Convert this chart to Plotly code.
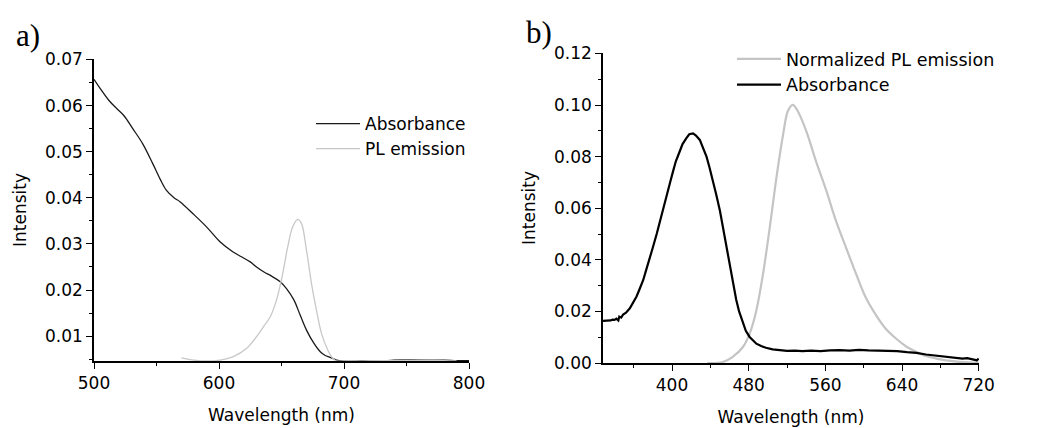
import plotly.graph_objects as go

# ---------------- Panel a data ----------------
a_abs_wl = [500, 505, 512, 518, 524, 531, 539, 547, 553, 558, 564, 569, 579, 590, 601, 611,
            618, 625, 630, 636, 642, 649, 654, 660, 665, 670, 676, 681, 685, 689, 694, 700,
            715, 730, 740, 760, 780, 790, 800]
a_abs_val = [0.0657, 0.0637, 0.0611, 0.0594, 0.0578, 0.0550, 0.0517, 0.0474, 0.0440, 0.0416,
             0.0400, 0.0391, 0.0366, 0.0337, 0.0304, 0.0283, 0.0272, 0.0261, 0.0250, 0.0239,
             0.0230, 0.0218, 0.0203, 0.0178, 0.0145, 0.0113, 0.0084, 0.0066, 0.0058, 0.0054,
             0.0048, 0.0046, 0.0046, 0.0046, 0.0048, 0.0048, 0.0048, 0.0047, 0.0047]

a_pl_wl = [570, 580, 590, 601, 611, 622, 632, 636, 641, 646, 651, 655, 659, 663, 666, 670,
           674, 678, 682, 687, 691, 694, 700, 720, 740, 760, 780, 790]
a_pl_val = [0.0053, 0.0048, 0.0046, 0.0048, 0.0055, 0.0073, 0.0106, 0.0122, 0.0142, 0.0178,
            0.0236, 0.0294, 0.0337, 0.0353, 0.0344, 0.0286, 0.0214, 0.0156, 0.0106, 0.0070,
            0.0052, 0.0046, 0.0046, 0.0046, 0.0047, 0.0047, 0.0047, 0.0046]

# ---------------- Panel b data ----------------
b_abs_wl = [328, 332, 336, 338, 340, 342, 344, 345, 347, 349, 352, 356, 359, 363, 366, 370,
            373, 377, 380, 384, 387, 391, 394, 398, 401, 404, 408, 411, 415, 418, 422, 425,
            429, 432, 436, 439, 443, 446, 450, 453, 457, 460, 464, 467, 470, 474, 477, 481,
            484, 488, 493, 498, 505, 512, 520, 528, 536, 545, 555, 565, 575, 585, 595, 605,
            615, 625, 635, 645, 655, 665, 675, 685, 695, 703, 708, 712, 716, 718, 720]
b_abs_val = [0.0163, 0.0163, 0.0165, 0.0168, 0.0167, 0.0172, 0.0165, 0.0180, 0.0176, 0.0188,
             0.0195, 0.0212, 0.0232, 0.0258, 0.0285, 0.0322, 0.0360, 0.0405, 0.0448, 0.0500,
             0.0545, 0.0604, 0.0650, 0.0700, 0.0742, 0.0782, 0.0820, 0.0849, 0.0872, 0.0887,
             0.0890, 0.0882, 0.0865, 0.0838, 0.0800, 0.0760, 0.0705, 0.0655, 0.0590, 0.0526,
             0.0450, 0.0385, 0.0305, 0.0245, 0.0200, 0.0152, 0.0125, 0.0101, 0.0088, 0.0075,
             0.0066, 0.0059, 0.0053, 0.0050, 0.0047, 0.0048, 0.0046, 0.0048, 0.0046, 0.0049,
             0.0050, 0.0048, 0.0051, 0.0049, 0.0048, 0.0047, 0.0046, 0.0042, 0.0039, 0.0033,
             0.0029, 0.0024, 0.0020, 0.0017, 0.0019, 0.0014, 0.0012, 0.0010, 0.0017]

b_pl_wl = [437, 453, 463, 474, 481, 488, 495, 502, 509, 516, 521, 526, 531, 540, 550, 561,
           571, 582, 592, 602, 613, 623, 634, 644, 655, 665, 676, 686, 700, 720]
b_pl_val = [0.0000, 0.0004, 0.0023, 0.0062, 0.0114, 0.0204, 0.0346, 0.0526, 0.0720, 0.0888,
            0.0978, 0.1001, 0.0978, 0.0900, 0.0785, 0.0668, 0.0552, 0.0443, 0.0346, 0.0255,
            0.0185, 0.0133, 0.0094, 0.0065, 0.0043, 0.0027, 0.0017, 0.0010, 0.0004, 0.0000]

FONT = "DejaVu Sans"
OFF = 8                      # default page body margin
W, H = 1057 - OFF, 428 - OFF


def fx(px):
    return (px - OFF) / W


def fy(py):
    return 1 - (py - OFF) / H


fig = go.Figure()
fig.add_trace(go.Scatter(x=a_abs_wl, y=a_abs_val, mode="lines", name="Absorbance",
                         line=dict(color="#1a1a1a", width=1.3, shape="spline"),
                         xaxis="x", yaxis="y", legend="legend"))
fig.add_trace(go.Scatter(x=a_pl_wl, y=a_pl_val, mode="lines", name="PL emission",
                         line=dict(color="#c8c8c8", width=1.3, shape="spline"),
                         xaxis="x", yaxis="y", legend="legend"))
fig.add_trace(go.Scatter(x=b_pl_wl, y=b_pl_val, mode="lines", name="Normalized PL emission",
                         line=dict(color="#c4c4c4", width=2.2, shape="spline"),
                         xaxis="x2", yaxis="y2", legend="legend2"))
fig.add_trace(go.Scatter(x=b_abs_wl, y=b_abs_val, mode="lines", name="Absorbance",
                         line=dict(color="#000000", width=2.2),
                         xaxis="x2", yaxis="y2", legend="legend2"))

axis_common = dict(showline=True, linecolor="black", linewidth=1.6, showgrid=False,
                   zeroline=False, ticks="outside", ticklen=6, tickwidth=1.3,
                   tickcolor="black", tickfont=dict(family=FONT, size=17, color="black"),
                   mirror=False, automargin=False)

title_font = dict(family=FONT, size=17, color="black")

fig.update_layout(
    width=W, height=H,
    margin=dict(l=0, r=0, t=0, b=0),
    paper_bgcolor="white", plot_bgcolor="white",
    showlegend=True,
    xaxis=dict(axis_common, domain=[fx(94), fx(469)], range=[500, 800],
               tick0=500, dtick=100, anchor="y",
               minor=dict(ticks="outside", ticklen=3, dtick=50, tickcolor="black"),
               title=dict(text="Wavelength (nm)", font=title_font, standoff=17)),
    yaxis=dict(axis_common, domain=[fy(361), fy(59)], range=[0.0046, 0.0701],
               tick0=0.01, dtick=0.01, tickformat=".2f", anchor="x",
               minor=dict(ticks="outside", ticklen=3, dtick=0.005, tick0=0, tickcolor="black"),
               title=dict(text="Intensity", font=title_font, standoff=14)),
    xaxis2=dict(axis_common, domain=[fx(603), fx(979)], range=[328, 720.3],
                tick0=400, dtick=80, anchor="y2",
                minor=dict(ticks="outside", ticklen=3, dtick=40, tick0=0, tickcolor="black"),
                title=dict(text="Wavelength (nm)", font=title_font, standoff=17)),
    yaxis2=dict(axis_common, domain=[fy(363), fy(53)], range=[0, 0.1202],
                tick0=0, dtick=0.02, tickformat=".2f", anchor="x2",
                minor=dict(ticks="outside", ticklen=3, dtick=0.01, tick0=0, tickcolor="black"),
                title=dict(text="Intensity", font=title_font, standoff=14)),
    legend=dict(x=fx(311), y=fy(106), xanchor="left", yanchor="top",
                bgcolor="rgba(0,0,0,0)", font=dict(family=FONT, size=17, color="black"),
                itemwidth=44, tracegroupgap=0),
    legend2=dict(x=fx(732), y=fy(41), xanchor="left", yanchor="top",
                 bgcolor="rgba(0,0,0,0)", font=dict(family=FONT, size=17.5, color="black"),
                 itemwidth=44, tracegroupgap=0),
    annotations=[
        dict(text="a)", x=fx(14), y=fy(36), xref="paper", yref="paper",
             xanchor="left", yanchor="middle", showarrow=False,
             font=dict(family="Liberation Serif", size=31, color="black")),
        dict(text="b)", x=fx(524), y=fy(32), xref="paper", yref="paper",
             xanchor="left", yanchor="middle", showarrow=False,
             font=dict(family="Liberation Serif", size=31, color="black")),
    ],
)

fig.write_html("out.html")
